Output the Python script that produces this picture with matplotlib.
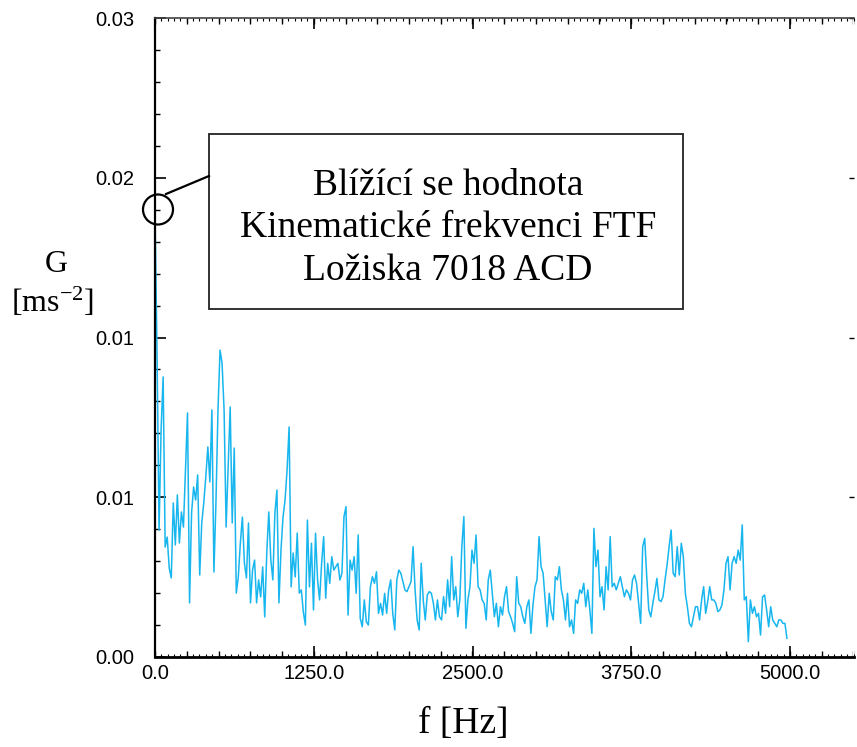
import numpy as np
import matplotlib
matplotlib.use("Agg")
import matplotlib.pyplot as plt
from matplotlib.ticker import MultipleLocator
from matplotlib.patches import Rectangle, Ellipse
from matplotlib.lines import Line2D

# spectrum, one value per 16 Hz bin, starting at 0 Hz
f_step = 16.0
g_values = [
    0.02085, 0.01427, 0.00596, 0.01066, 0.01315, 0.00516, 0.00563, 0.00418, 0.00371, 0.00723,
    0.00526, 0.00761, 0.00535, 0.00681, 0.00610, 0.00878, 0.01146, 0.00254, 0.00676, 0.00798,
    0.00737, 0.00855, 0.00385, 0.00629, 0.00723, 0.00845, 0.00986, 0.00822, 0.01160, 0.00399,
    0.00728, 0.01160, 0.01441, 0.01380, 0.01160, 0.00610, 0.00892, 0.01174, 0.00629, 0.00981,
    0.00300, 0.00376, 0.00535, 0.00657, 0.00441, 0.00371, 0.00629, 0.00254, 0.00408, 0.00455,
    0.00254, 0.00362, 0.00282, 0.00423, 0.00188, 0.00488, 0.00681, 0.00455, 0.00362, 0.00676,
    0.00784, 0.00254, 0.00502, 0.00657, 0.00737, 0.00878, 0.01080, 0.00329, 0.00488, 0.00376,
    0.00582, 0.00300, 0.00315, 0.00211, 0.00150, 0.00643, 0.00329,
    0.00534, 0.00221, 0.00581, 0.00362, 0.00268, 0.00440, 0.00565, 0.00276, 0.00440, 0.00346,
    0.00471, 0.00408, 0.00424, 0.00440, 0.00362, 0.00393, 0.00659, 0.00706, 0.00197, 0.00455,
    0.00408, 0.00471, 0.00299, 0.00573, 0.00182, 0.00142, 0.00268, 0.00166, 0.00150, 0.00330,
    0.00377, 0.00346, 0.00400, 0.00205, 0.00252, 0.00197, 0.00299, 0.00205, 0.00315, 0.00362,
    0.00205, 0.00127, 0.00362, 0.00408, 0.00393, 0.00354, 0.00315, 0.00307, 0.00330, 0.00354,
    0.00518, 0.00315, 0.00174, 0.00127, 0.00440, 0.00268, 0.00174, 0.00291, 0.00307, 0.00299,
    0.00252, 0.00174, 0.00268, 0.00189, 0.00174, 0.00283, 0.00205, 0.00362, 0.00236, 0.00471,
    0.00268, 0.00330, 0.00189, 0.00268, 0.00518, 0.00659, 0.00135, 0.00268, 0.00330,
    0.00502, 0.00440, 0.00573, 0.00330, 0.00315, 0.00268, 0.00252, 0.00174, 0.00362, 0.00408,
    0.00299, 0.00189, 0.00252, 0.00142, 0.00236, 0.00197, 0.00283, 0.00330, 0.00213, 0.00189,
    0.00158, 0.00119, 0.00377, 0.00252, 0.00236, 0.00189, 0.00158, 0.00236, 0.00268, 0.00111,
    0.00244, 0.00330, 0.00362, 0.00565, 0.00424, 0.00393, 0.00268, 0.00142, 0.00299, 0.00213,
    0.00174, 0.00377, 0.00362, 0.00424, 0.00315, 0.00268, 0.00174, 0.00299, 0.00142, 0.00174,
    0.00111, 0.00268, 0.00252, 0.00315, 0.00299, 0.00346, 0.00236, 0.00315, 0.00221, 0.00111,
    0.00604, 0.00424, 0.00502, 0.00283, 0.00330, 0.00221, 0.00424, 0.00315, 0.00565, 0.00330,
    0.00346, 0.00315, 0.00346, 0.00377, 0.00330, 0.00283, 0.00315, 0.00299,
    0.00268, 0.00362, 0.00385, 0.00346, 0.00252, 0.00158, 0.00518, 0.00557, 0.00377, 0.00221,
    0.00189, 0.00252, 0.00307, 0.00369, 0.00268, 0.00260, 0.00283, 0.00362, 0.00432, 0.00518,
    0.00596, 0.00393, 0.00377, 0.00518, 0.00385, 0.00534, 0.00471, 0.00299, 0.00236, 0.00158,
    0.00142, 0.00189, 0.00236, 0.00236, 0.00174, 0.00268, 0.00330, 0.00205, 0.00260, 0.00330,
    0.00268, 0.00268, 0.00252, 0.00213, 0.00221, 0.00244, 0.00315, 0.00440, 0.00471, 0.00315,
    0.00440, 0.00471, 0.00440, 0.00502, 0.00455, 0.00620, 0.00268, 0.00283, 0.00072, 0.00268,
    0.00205, 0.00236, 0.00189, 0.00205, 0.00103, 0.00283, 0.00291, 0.00221, 0.00142, 0.00236,
    0.00174, 0.00158, 0.00142, 0.00174, 0.00174, 0.00158, 0.00158, 0.00088,
]

x_ticks = [0, 1250, 2500, 3750, 5000]
x_tick_labels = ["0.0", "1250.0", "2500.0", "3750.0", "5000.0"]
y_ticks = [0, 0.0075, 0.015, 0.0225, 0.03]
y_tick_labels = ["0.00", "0.01", "0.01", "0.02", "0.03"]
note_lines = ["Blížící se hodnota", "Kinematické frekvenci FTF", "Ložiska 7018 ACD"]

tick_font = ["Liberation Sans", "DejaVu Sans"]
label_font = ["Liberation Serif", "DejaVu Serif"]
plt.rcParams["mathtext.default"] = "regular"

W, H = 857, 747
freqs = np.arange(len(g_values)) * f_step

fig = plt.figure(figsize=(W / 100, H / 100), dpi=100)
ax = fig.add_axes([155 / W, 1 - 657 / H, (853.5 - 155) / W, (657 - 18) / H])
ax.plot(freqs, g_values, color="#17B6EE", lw=1.1)
ax.set_xlim(0, 5500)
ax.set_ylim(0, 0.03)

# spines
ax.spines["right"].set_visible(False)
ax.spines["left"].set_linewidth(1.6)
ax.spines["bottom"].set_linewidth(2.0)
ax.spines["top"].set_linewidth(1.2)
ax.spines["top"].set_color("#444444")

# x ticks: long every 1250, medium every 250, short every 50
ax.set_xticks(x_ticks, x_tick_labels, fontfamily=tick_font, fontsize=14.5)
ax.xaxis.set_minor_locator(MultipleLocator(50))
ax.tick_params(axis="x", which="major", direction="in", top=True, length=8, width=1.2, pad=5)
ax.tick_params(axis="x", which="minor", direction="in", top=True, length=2.2, width=0.8)
for side in ("bottom", "top"):
    sec = ax.secondary_xaxis(side)
    sec.xaxis.set_major_locator(MultipleLocator(250))
    sec.tick_params(direction="in", length=4.5, width=1.0, labelbottom=False, labeltop=False)
    sec.spines[:].set_visible(False)

# y ticks
ax.set_yticks(y_ticks, y_tick_labels, fontfamily=tick_font, fontsize=14.5)
ax.yaxis.set_minor_locator(MultipleLocator(0.0015))
ax.tick_params(axis="y", which="major", direction="in", length=8, width=1.2, pad=15)
ax.tick_params(axis="y", which="minor", direction="in", length=3.8, width=1.0)
secy = ax.secondary_yaxis("right")
secy.set_yticks(y_ticks)
secy.tick_params(direction="in", length=3.5, width=1.0, labelright=False)
secy.spines[:].set_visible(False)

# axis labels
fig.text(56 / W, 1 - 265 / H, "G", fontfamily=label_font, fontsize=23,
         ha="center", va="center")
fig.text(53 / W, 1 - 302 / H, "[ms$^{-2}$]", fontfamily=label_font, fontsize=23,
         ha="center", va="center")
fig.text(463 / W, 1 - 724 / H, "f [Hz]", fontfamily=label_font, fontsize=27,
         ha="center", va="center")

# annotation box with pointer to the first peak
fig.add_artist(Rectangle((209 / W, 1 - 309 / H), (683 - 209) / W, (309 - 134) / H,
                         transform=fig.transFigure, fill=False, lw=1.3, ec="#222222"))
fig.text(448 / W, 1 - 228 / H, "\n".join(note_lines), fontfamily=label_font, fontsize=27,
         ha="center", va="center", multialignment="center", linespacing=1.3)
fig.add_artist(Ellipse((158 / W, 1 - 209.5 / H), 30 / W, 30 / H,
                       transform=fig.transFigure, fill=False, lw=1.6, ec="black"))
fig.add_artist(Line2D([166 / W, 209 / W], [1 - 194 / H, 1 - 176 / H],
                      transform=fig.transFigure, color="black", lw=1.6))

fig.savefig("out.png", dpi=100)
